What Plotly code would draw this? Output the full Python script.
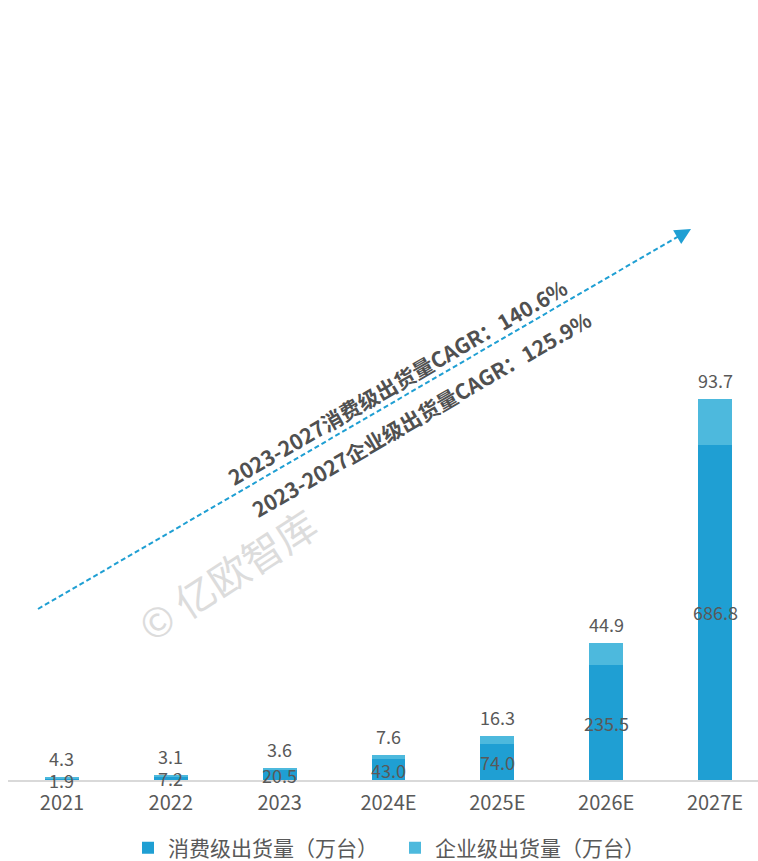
import math
import plotly.graph_objects as go

categories = ["2021", "2022", "2023", "2024E", "2025E", "2026E", "2027E"]
consumer = [1.9, 7.2, 20.5, 43.0, 74.0, 235.5, 686.8]
enterprise = [4.3, 3.1, 3.6, 7.6, 16.3, 44.9, 93.7]
series_names = ["消费级出货量（万台）", "企业级出货量（万台）"]
cagr_texts = ["2023-2027消费级出货量CAGR：140.6%", "2023-2027企业级出货量CAGR：125.9%"]
watermark = "© 亿欧智库"

W, H = 758, 900
ML, MR, MT = 8, 0, 0
PH = 780
MB = H - MT - PH
PW = W - ML - MR

C_DARK = "#1F9FD3"
C_LIGHT = "#4DB9DD"
TXT = "#595959"
FONT = "Noto Sans CJK SC"


def px(xp, yp):
    return (xp - ML) / PW, (MT + PH - yp) / PH


fig = go.Figure()
fig.add_trace(go.Bar(x=categories, y=consumer, name=series_names[0],
                     marker=dict(color=C_DARK, line=dict(width=0)), width=0.31))
fig.add_trace(go.Bar(x=categories, y=enterprise, name=series_names[1],
                     marker=dict(color=C_LIGHT, line=dict(width=0)), width=0.31))

annotations = []
for i, (v, e) in enumerate(zip(consumer, enterprise)):
    annotations.append(dict(x=i, y=v / 2, text=f"{v:.1f}", showarrow=False,
                            xref="x", yref="y", xanchor="center", yanchor="middle",
                            font=dict(size=18, color=TXT, family=FONT)))
    annotations.append(dict(x=i, y=v + e, text=f"{e:.1f}", showarrow=False,
                            xref="x", yref="y", xanchor="center", yanchor="middle", yshift=19,
                            font=dict(size=18, color=TXT, family=FONT)))

# CAGR texts
for (cx, cy), t in zip([(397, 382), (421, 414)], cagr_texts):
    x, y = px(cx, cy)
    annotations.append(dict(x=x, y=y, xref="paper", yref="paper", text=f"<b>{t}</b>",
                            showarrow=False, textangle=-30, xanchor="center", yanchor="middle",
                            font=dict(size=21, color="#505050", family=FONT)))
# watermark
wx, wy = px(227, 574)
annotations.append(dict(x=wx, y=wy, xref="paper", yref="paper", text=watermark,
                        showarrow=False, textangle=-33, xanchor="center", yanchor="middle",
                        font=dict(size=40, color="#DCDCDC", family=FONT)))

# arrow (dashed line + triangular head)
tail = (38, 609)
tip = (691, 229)
dx, dy = tip[0] - tail[0], tip[1] - tail[1]
L = math.hypot(dx, dy)
ux, uy = dx / L, dy / L
nx, ny = -uy, ux
hl, hw = 16, 8
bx, by = tip[0] - hl * ux, tip[1] - hl * uy
p1 = (bx + hw * nx, by + hw * ny)
p2 = (bx - hw * nx, by - hw * ny)
t0 = px(*tail)
b0 = px(bx + 2 * ux, by + 2 * uy)
shapes = [
    dict(type="line", xref="paper", yref="paper", x0=t0[0], y0=t0[1], x1=b0[0], y1=b0[1],
         line=dict(color=C_DARK, width=2, dash="5px,3px")),
]
pp = [px(*tip), px(*p1), px(*p2)]
path = "M {} {} L {} {} L {} {} Z".format(pp[0][0], pp[0][1], pp[1][0], pp[1][1], pp[2][0], pp[2][1])
shapes.append(dict(type="path", xref="paper", yref="paper", path=path,
                   fillcolor=C_DARK, line=dict(width=0)))

leg_x, leg_y = px(128, 848)

fig.update_layout(
    width=W, height=H,
    margin=dict(l=ML, r=MR, t=MT, b=MB),
    barmode="stack",
    plot_bgcolor="white", paper_bgcolor="white",
    font=dict(family=FONT, color=TXT),
    showlegend=True,
    legend=dict(orientation="h", x=leg_x, xanchor="left", y=leg_y, yanchor="middle",
                entrywidth=222, entrywidthmode="pixels",
                font=dict(size=21, color=TXT, family=FONT), traceorder="normal"),
    xaxis=dict(type="category", range=[-0.496, 6.395], showline=True, linecolor="#D9D9D9",
               linewidth=2, showgrid=False, ticks="", ticklabelstandoff=4,
               tickfont=dict(size=20, color=TXT, family=FONT), fixedrange=True),
    yaxis=dict(range=[0, 1598], visible=False, showgrid=False, zeroline=False, fixedrange=True),
    annotations=annotations,
    shapes=shapes,
)

fig.write_html("out.html", config={"displayModeBar": False},
               post_script="document.body.style.margin='0';document.body.style.overflow='hidden';"
                           "document.documentElement.style.overflow='hidden';")
